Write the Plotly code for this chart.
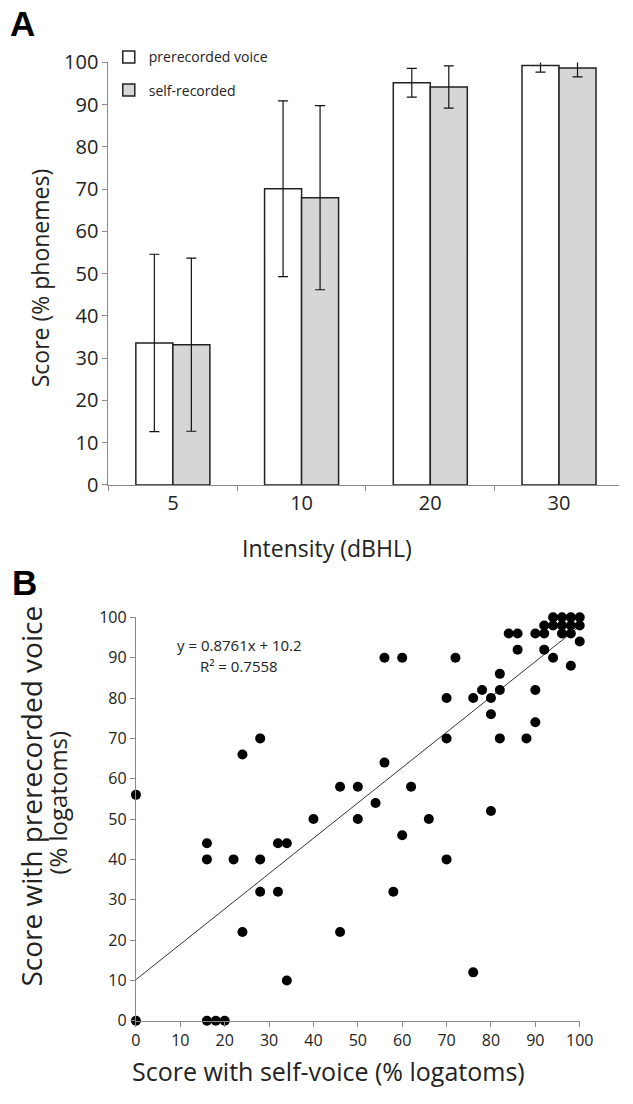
import plotly.graph_objects as go

# ---------------- Data ----------------
intensity = ["5", "10", "20", "30"]
prerecorded_mean = [33.6, 70.1, 95.2, 99.3]
prerecorded_sd = [21.0, 20.8, 3.4, 1.6]
selfrec_mean = [33.2, 68.0, 94.2, 98.7]
selfrec_sd = [20.5, 21.8, 5.0, 2.1]

self_voice = [0, 0, 16, 18, 20, 16, 16, 22, 28, 28, 32, 32, 34, 24, 34, 24, 28,
              40, 46, 46, 50, 50, 54, 56, 56, 60, 72, 62, 58, 60, 66, 70, 70, 70,
              76, 76, 78, 80, 80, 80, 82, 82, 82, 88, 90, 90,
              94, 96, 98, 100, 92, 94, 96, 98, 100, 84, 86, 90, 92, 96, 98,
              100, 86, 92, 94, 98]
prerecorded_voice = [0, 56, 0, 0, 0, 44, 40, 40, 40, 32, 32, 44, 44, 22, 10, 66, 70,
                     50, 22, 58, 58, 50, 54, 64, 90, 90, 90, 58, 32, 46, 50, 40, 70, 80,
                     12, 80, 82, 80, 52, 76, 82, 86, 70, 70, 82, 74,
                     100, 100, 100, 100, 98, 98, 98, 98, 98, 96, 96, 96, 96, 96, 96,
                     94, 92, 92, 90, 88]

trend_slope = 0.8761
trend_intercept = 10.2
trend_x = [0, 100]
trend_y = [trend_slope * v + trend_intercept for v in trend_x]

# ---------------- Layout helpers ----------------
W, H = 633, 1104


def fx(p):
    return p / W


def fy(p):
    return 1 - p / H


FONT = "Open Sans"
AXC = "#8a8a8a"

fig = go.Figure()

fig.add_trace(go.Bar(
    x=intensity, y=prerecorded_mean, name="prerecorded voice",
    error_y=dict(type="data", array=prerecorded_sd, color="#111", thickness=1.2, width=5),
    marker=dict(color="white", line=dict(color="#222", width=1.5)),
    xaxis="x", yaxis="y", legendgroup="a"))
fig.add_trace(go.Bar(
    x=intensity, y=selfrec_mean, name="self-recorded",
    error_y=dict(type="data", array=selfrec_sd, color="#111", thickness=1.2, width=5),
    marker=dict(color="#d6d6d6", line=dict(color="#222", width=1.5)),
    xaxis="x", yaxis="y", legendgroup="b"))

fig.add_trace(go.Scatter(
    x=trend_x, y=trend_y, mode="lines", line=dict(color="#333", width=1),
    xaxis="x2", yaxis="y2", showlegend=False))
fig.add_trace(go.Scatter(
    x=self_voice, y=prerecorded_voice, mode="markers",
    marker=dict(color="black", size=10), cliponaxis=False,
    xaxis="x2", yaxis="y2", showlegend=False))

axis_common = dict(showline=True, linecolor=AXC, linewidth=1.2, ticks="outside",
                   tickcolor=AXC, ticklen=5, showgrid=False, zeroline=False)

fig.update_layout(
    width=W, height=H, margin=dict(l=0, r=0, t=0, b=0),
    paper_bgcolor="white", plot_bgcolor="white",
    font=dict(family=FONT, color="#222"),
    barmode="group", bargap=0.425, bargroupgap=0,
    xaxis=dict(domain=[fx(106.7), 1.0], range=[-0.5, 3.466], type="category",
               tickson="boundaries", anchor="y", tickfont=dict(size=20),
               **axis_common),
    yaxis=dict(domain=[fy(482.7), fy(49.7)], range=[0, 100], dtick=10, anchor="x",
               tickfont=dict(size=20), **axis_common),
    xaxis2=dict(domain=[fx(135), fx(592.5)], range=[0, 100], dtick=10, anchor="y2",
                tickfont=dict(size=16), **axis_common),
    yaxis2=dict(domain=[fy(1032), fy(618.5)], range=[0, 100], dtick=10, anchor="x2",
                tickfont=dict(size=16), **axis_common),
    legend=dict(x=fx(107), y=fy(28), xanchor="left", yanchor="top",
                bgcolor="rgba(0,0,0,0)", font=dict(size=14, color="#222"),
                tracegroupgap=12, itemwidth=30),
    showlegend=True,
)

ann = [
    dict(text="<b>A</b>", x=fx(3), y=fy(10), xanchor="left", yanchor="middle",
         font=dict(size=35, family="Liberation Sans", color="black")),
    dict(text="<b>B</b>", x=fx(5), y=fy(583), xanchor="left", yanchor="middle",
         font=dict(size=35, family="Liberation Sans", color="black")),
    dict(text="Score (% phonemes)", x=fx(36), y=fy(270), textangle=-90,
         xanchor="center", yanchor="middle", font=dict(size=23)),
    dict(text="Intensity (dBHL)", x=fx(332), y=fy(547), xanchor="center",
         yanchor="middle", font=dict(size=23)),
    dict(text="Score with prerecorded voice", x=fx(27), y=fy(802), textangle=-90,
         xanchor="center", yanchor="middle", font=dict(size=28)),
    dict(text="(% logatoms)", x=fx(54), y=fy(808), textangle=-90,
         xanchor="center", yanchor="middle", font=dict(size=24)),
    dict(text="Score with self-voice (% logatoms)", x=fx(333), y=fy(1084),
         xanchor="center", yanchor="middle", font=dict(size=25)),
    dict(text="y = 0.8761x + 10.2", x=fx(241.7), y=fy(647.3), xanchor="center",
         yanchor="middle", font=dict(size=15)),
    dict(text="R² = 0.7558", x=fx(241.7), y=fy(668.3), xanchor="center",
         yanchor="middle", font=dict(size=15)),
]
for a in ann:
    a.update(xref="paper", yref="paper", showarrow=False)
fig.update_layout(annotations=ann)

fig.write_html("out.html", config={"displayModeBar": False},
               post_script="document.body.style.margin='0px';document.body.style.overflow='hidden';")
